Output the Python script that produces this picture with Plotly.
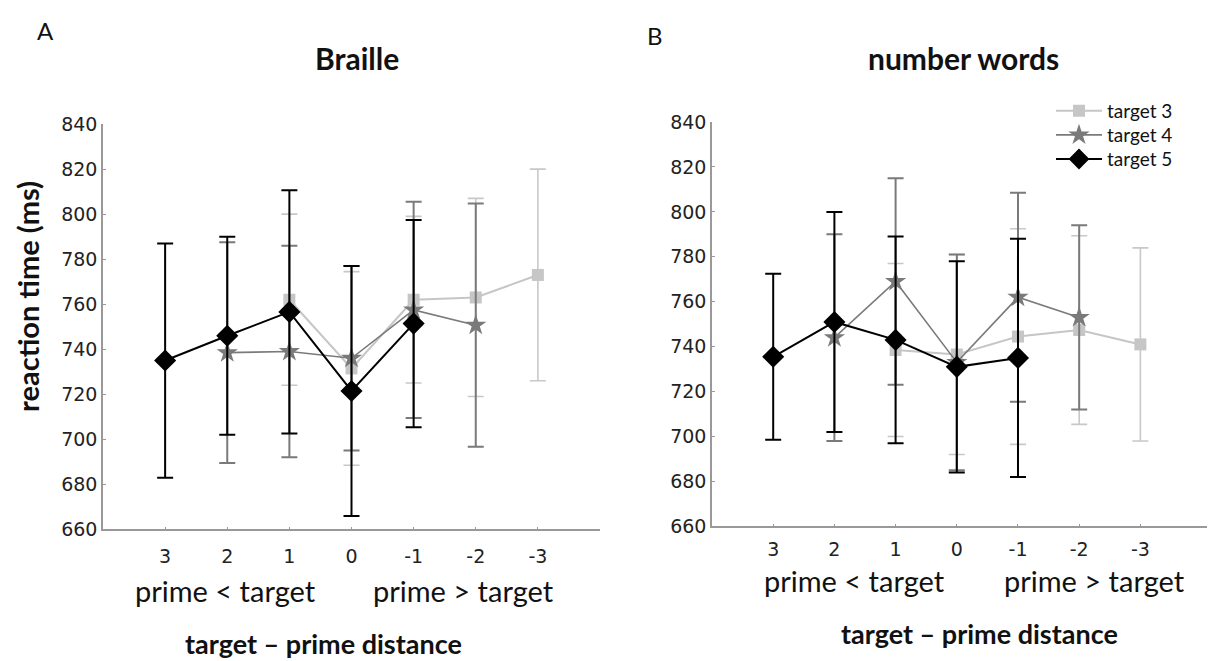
import plotly.graph_objects as go

W, H = 1215, 661

distances = ["3", "2", "1", "0", "-1", "-2", "-3"]

# Panel A: Braille
braille_t3_x = ["1", "0", "-1", "-2", "-3"]
braille_t3_y = [762, 731.5, 762, 763, 773]
braille_t3_err = [38, 43, 37, 44, 47]

braille_t4_x = ["2", "1", "0", "-1", "-2"]
braille_t4_y = [738.5, 739, 736, 757.5, 750.7]
braille_t4_err = [49, 47, 41, 48, 54]

braille_t5_x = ["3", "2", "1", "0", "-1"]
braille_t5_y = [735, 746, 756.6, 721.5, 751.4]
braille_t5_err = [52, 44, 54, 55.5, 46]

# Panel B: number words
words_t3_x = ["1", "0", "-1", "-2", "-3"]
words_t3_y = [738.5, 736.5, 744.5, 747.4, 741]
words_t3_err = [38.5, 44.5, 48, 42, 43]

words_t4_x = ["2", "1", "0", "-1", "-2"]
words_t4_y = [744, 769, 733, 762, 753]
words_t4_err = [46, 46, 48, 46.5, 41]

words_t5_x = ["3", "2", "1", "0", "-1"]
words_t5_y = [735.5, 751, 743, 731, 735]
words_t5_err = [37, 49, 46, 47, 53]

y_ticks = [660, 680, 700, 720, 740, 760, 780, 800, 820, 840]
series_names = ["target 3", "target 4", "target 5"]


def px(x):
    return x / W


def py(y):
    return 1 - y / H


styles = {
    "target 3": dict(color="#c6c6c6", symbol="square", size=12, lw=2,
                     ecolor="#c8c8c8", ethick=1.6, legend="legend", ly=95),
    "target 4": dict(color="#7a7a7a", symbol="star", size=16, lw=1.6,
                     ecolor="#7a7a7a", ethick=2, legend="legend2", ly=120),
    "target 5": dict(color="#000000", symbol="diamond", size=17, lw=2,
                     ecolor="#000000", ethick=2, legend="legend3", ly=145),
}

fig = go.Figure()

panels = [
    ("x", "y", [(braille_t3_x, braille_t3_y, braille_t3_err),
                (braille_t4_x, braille_t4_y, braille_t4_err),
                (braille_t5_x, braille_t5_y, braille_t5_err)], False),
    ("x2", "y2", [(words_t3_x, words_t3_y, words_t3_err),
                  (words_t4_x, words_t4_y, words_t4_err),
                  (words_t5_x, words_t5_y, words_t5_err)], True),
]

for xa, ya, data, show in panels:
    for name, (xs, ys, es) in zip(series_names, data):
        s = styles[name]
        fig.add_trace(go.Scatter(
            x=xs, y=ys, name=name, xaxis=xa, yaxis=ya,
            mode="lines+markers", showlegend=show, legend=s["legend"],
            line=dict(color=s["color"], width=s["lw"]),
            marker=dict(symbol=s["symbol"], size=s["size"], color=s["color"],
                        line=dict(width=0)),
            error_y=dict(type="data", array=es, visible=True, color=s["ecolor"],
                         thickness=s["ethick"], width=8),
        ))

tickfont = dict(family="DejaVu Sans", size=19, color="#222")
axis_common = dict(
    type="category", categoryorder="array", categoryarray=distances,
    range=[-1, 7], showline=True, linecolor="#999999", linewidth=1.6,
    ticks="inside", ticklen=3, tickcolor="#999999", showgrid=False, zeroline=False,
    tickfont=tickfont,
)
yaxis_common = dict(
    range=[660, 840], tickvals=y_ticks, showline=True, linecolor="#999999",
    linewidth=1.6, ticks="inside", ticklen=3, tickcolor="#999999",
    showgrid=False, zeroline=False, tickfont=tickfont,
)


def legend_at(y):
    return dict(x=px(1043), y=py(y), xanchor="left", yanchor="middle",
                font=dict(family="Lato", size=19, color="#111"),
                bgcolor="rgba(0,0,0,0)", itemwidth=46)


fig.update_layout(
    width=W, height=H, margin=dict(l=0, r=0, t=0, b=0),
    paper_bgcolor="white", plot_bgcolor="white",
    xaxis=dict(axis_common, domain=[px(95), px(592)], anchor="y",
               ticklabelstandoff=9),
    yaxis=dict(yaxis_common, domain=[py(528), py(108.7)], anchor="x"),
    xaxis2=dict(axis_common, domain=[px(704), px(1215)], anchor="y2",
                range=[-1, 7.35], ticklabelstandoff=5),
    yaxis2=dict(yaxis_common, domain=[py(524.8), py(106.6)], anchor="x2"),
    legend=legend_at(styles["target 3"]["ly"]),
    legend2=legend_at(styles["target 4"]["ly"]),
    legend3=legend_at(styles["target 5"]["ly"]),
    showlegend=True,
)

ann = [
    dict(text="A", x=37, y=11.4, size=24, anchor="middle"),
    dict(text="B", x=647, y=0, size=24, anchor="top"),
    dict(text="<b>Braille</b>", x=349, y=40.4, size=30, anchor="middle"),
    dict(text="<b>number words</b>", x=955, y=40.4, size=30, anchor="middle"),
    dict(text="prime < target", x=217.5, y=591, size=29, anchor="middle"),
    dict(text="prime > target", x=455, y=591, size=29, anchor="middle"),
    dict(text="prime < target", x=846.5, y=580.7, size=29, anchor="middle"),
    dict(text="prime > target", x=1086.5, y=580.7, size=29, anchor="middle"),
    dict(text="<b>target – prime distance</b>", x=315.5, y=646, size=27, anchor="middle"),
    dict(text="<b>target – prime distance</b>", x=971, y=636, size=27, anchor="middle"),
]
for a in ann:
    fig.add_annotation(text=a["text"], x=px(a["x"]), y=py(a["y"]), xref="paper",
                       yref="paper", showarrow=False, xanchor="center",
                       yanchor=a["anchor"],
                       font=dict(family="Lato", size=a["size"], color="#111"))

fig.add_annotation(text="<b>reaction time (ms)</b>", x=0, y=py(287), xref="paper",
                   yref="paper", showarrow=False, textangle=-90,
                   xanchor="left", yanchor="middle",
                   font=dict(family="Lato", size=29, color="#111"))

fig.write_html("out.html")
